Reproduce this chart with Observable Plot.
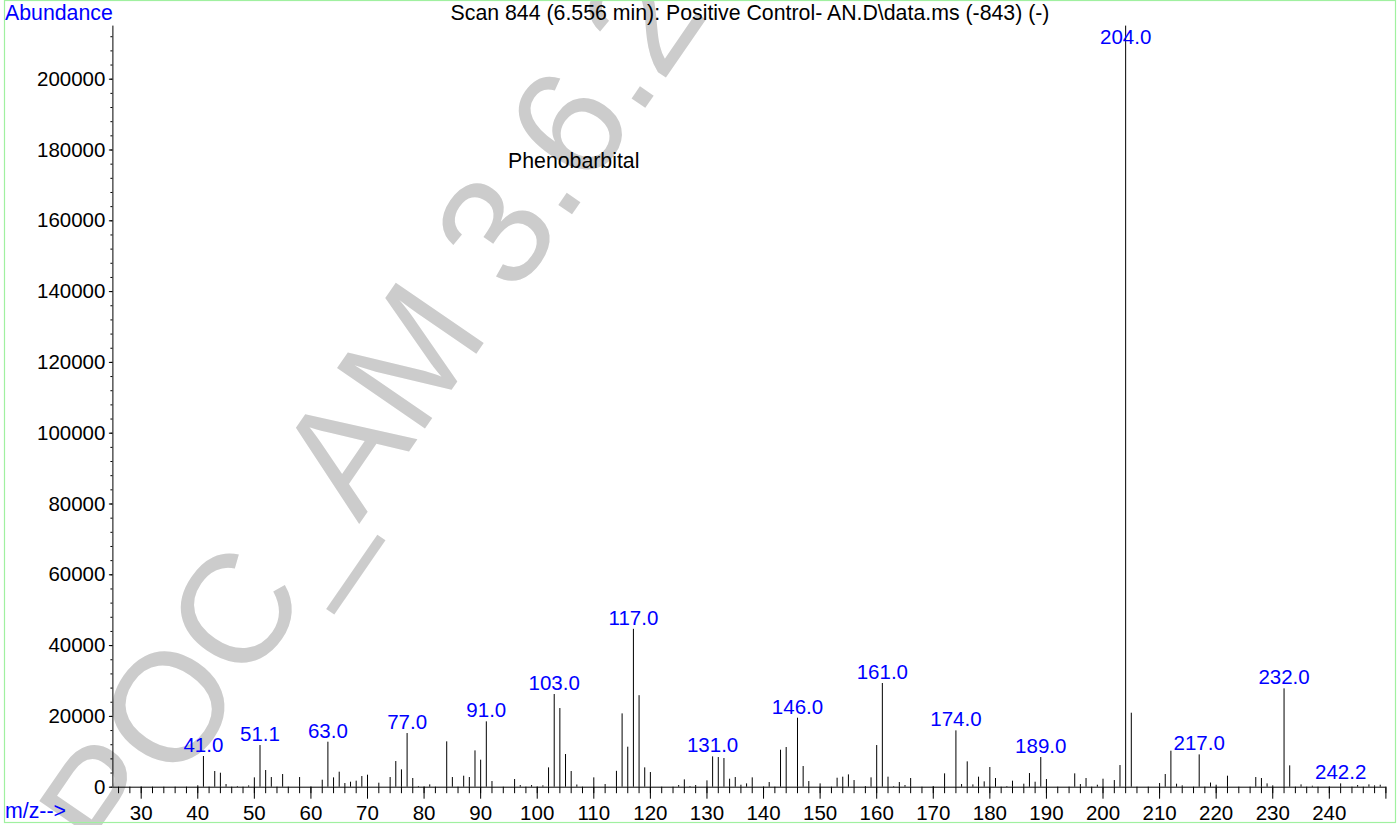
<!DOCTYPE html>
<html>
<head>
<meta charset="utf-8">
<script src="https://cdn.jsdelivr.net/npm/d3@7"></script>
<script src="https://cdn.jsdelivr.net/npm/@observablehq/plot@0.6"></script>
<style>
html, body { margin: 0; padding: 0; background: #ffffff; }
#wrap { position: relative; width: 1400px; height: 825px; overflow: hidden; font-family: "Liberation Sans", Arial, Helvetica, sans-serif; }
#back { position: absolute; left: 0; top: 0; }
#chart { position: absolute; left: 0; top: 0; }
</style>
</head>
<body>
<div id="wrap">
  <svg id="back" width="1400" height="825" font-family="Liberation Sans, Arial, Helvetica, sans-serif">
    <text x="120" y="872" transform="rotate(-55.5 120 872)" font-size="155" fill="#cccccc">POC_AM 3.6.2</text>
    <rect x="4.5" y="0.5" width="1391" height="822" fill="none" stroke="#a0f0a0" stroke-width="1.2"></rect>
    <text x="5" y="19.5" font-size="21.3" fill="#0000ff">Abundance</text>
    <text x="750" y="19.5" font-size="21.3" fill="#000000" text-anchor="middle">Scan 844 (6.556 min): Positive Control- AN.D\data.ms (-843) (-)</text>
    <text x="508" y="168" font-size="21.3" fill="#000000">Phenobarbital</text>
    <text x="5" y="818" font-size="21.3" fill="#0000ff">m/z--&gt;</text>
  </svg>
  <div id="chart"></div>
</div>
<script>
// m/z values of the spectrum lines
const mzValues = [
  40, 41, 43, 44, 45, 47, 49, 50, 51, 52, 53, 55, 58, 62, 63, 64, 65, 66, 67, 68, 69, 70,
  72, 74, 75, 76, 77, 78, 79, 81, 84, 85, 87, 88, 89, 90, 91, 92, 96, 97, 99, 101,
  102, 103, 104, 105, 106, 107, 110, 112, 114, 115, 116, 117, 118, 119, 120,
  125, 126, 127, 128, 130, 131, 132, 133, 134, 135, 136, 137, 138, 141, 143, 144,
  146, 147, 148, 150, 153, 154, 155, 156, 158, 159, 160, 161, 162, 163, 164, 165, 166,
  170, 172, 174, 175, 176, 177, 178, 179, 180, 181, 183, 184, 186, 187, 188, 189, 190,
  195, 196, 197, 199, 200, 202, 203, 204, 205, 210, 211, 212, 213, 214, 217, 219, 220,
  222, 227, 228, 229, 230, 232, 233, 235, 237, 242, 245, 247, 248, 249
];
// abundance of each line
const abundanceValues = [
  400, 8670, 4430, 3950, 750, 200, 370, 2640, 11770, 4710, 2730, 3580, 2730, 1980, 12710, 2640, 4240, 1040, 1410, 1700, 3010, 3390,
  1130, 2730, 7250, 4900, 15160, 2450, 200, 650, 12810, 2730, 3110, 2730, 10260, 7630, 18460, 1600, 2170, 470, 470, 400,
  5460, 26180, 22220, 9230, 4430, 620, 2640, 750, 4480, 20710, 11300, 44600, 25850, 5460, 4140,
  470, 2070, 190, 470, 1790, 8570, 8380, 8100, 2260, 2730, 560, 940, 2640, 1320, 10450, 11210,
  19490, 5840, 1600, 940, 2540, 2830, 3480, 1880, 190, 2640, 11770, 29290, 2830, 190, 1320, 470, 2450,
  190, 3770, 15910, 750, 7160, 650, 2830, 1510, 5560, 2450, 190, 1700, 850, 3860, 1410, 8380, 2170,
  3770, 750, 2450, 560, 2260, 1880, 6120, 215000, 20900, 1040, 3580, 10170, 850, 380, 9130, 1170, 560,
  3110, 2730, 2450, 940, 380, 27780, 6030, 660, 280, 940, 470, 660, 380, 560
];
// labelled peaks
const labelMz = [41, 51, 63, 77, 91, 103, 117, 131, 146, 161, 174, 189, 204, 217, 232, 242];
const labelText = ["41.0", "51.1", "63.0", "77.0", "91.0", "103.0", "117.0", "131.0", "146.0", "161.0", "174.0", "189.0", "204.0", "217.0", "232.0", "242.2"];
// axis ticks
const xMajorTicks = [30, 40, 50, 60, 70, 80, 90, 100, 110, 120, 130, 140, 150, 160, 170, 180, 190, 200, 210, 220, 230, 240, 250];
const xMinorTicks = d3.range(26, 251, 2);
const yMajorTicks = [0, 20000, 40000, 60000, 80000, 100000, 120000, 140000, 160000, 180000, 200000];
const yMinorTicks = d3.range(0, 215001, 4000);

const peaks = mzValues.map((m, i) => ({mz: m, ab: abundanceValues[i]}));
const abOf = new Map(peaks.map(p => [p.mz, p.ab]));
const labels = labelMz.map((m, i) => ({mz: m, ab: abOf.get(m), label: labelText[i]}));
const labelsNormal = labels.filter(d => d.mz !== 204);
const labelsTop = labels.filter(d => d.mz === 204);

const chart = Plot.plot({
  width: 1400,
  height: 825,
  marginLeft: 112.4,
  marginRight: 14.6,
  marginTop: 25.6,
  marginBottom: 38.3,
  x: {domain: [25, 250], label: null},
  y: {domain: [0, 215000], label: null},
  style: {background: "transparent", fontFamily: "Liberation Sans, Arial, Helvetica, sans-serif", fontSize: "20.5px", color: "black", overflow: "visible"},
  marks: [
    Plot.axisX({ticks: xMinorTicks, tickSize: 6.5, tickFormat: () => ""}),
    Plot.axisX({ticks: xMajorTicks, tickSize: 12, tickPadding: 6, tickFormat: d => d === 250 ? "" : String(d), fontSize: 20.5}),
    Plot.axisY({ticks: yMinorTicks, tickSize: 2, tickFormat: () => ""}),
    Plot.axisY({ticks: yMajorTicks, tickSize: 3.5, tickPadding: 4, tickFormat: d => String(d), fontSize: 20.5}),
    Plot.ruleY([0], {stroke: "black"}),
    Plot.ruleX([25], {stroke: "black"}),
    Plot.ruleX(peaks, {x: "mz", y1: 0, y2: "ab", stroke: "black", strokeWidth: 1}),
    Plot.text(labelsNormal, {x: "mz", y: "ab", text: "label", dy: -11, fill: "#0000ff", fontSize: 20.5}),
    Plot.text(labelsTop, {x: "mz", y: "ab", text: "label", dy: 11, fill: "#0000ff", fontSize: 20.5})
  ]
});
document.getElementById("chart").appendChild(chart);
</script>
</body>
</html>
